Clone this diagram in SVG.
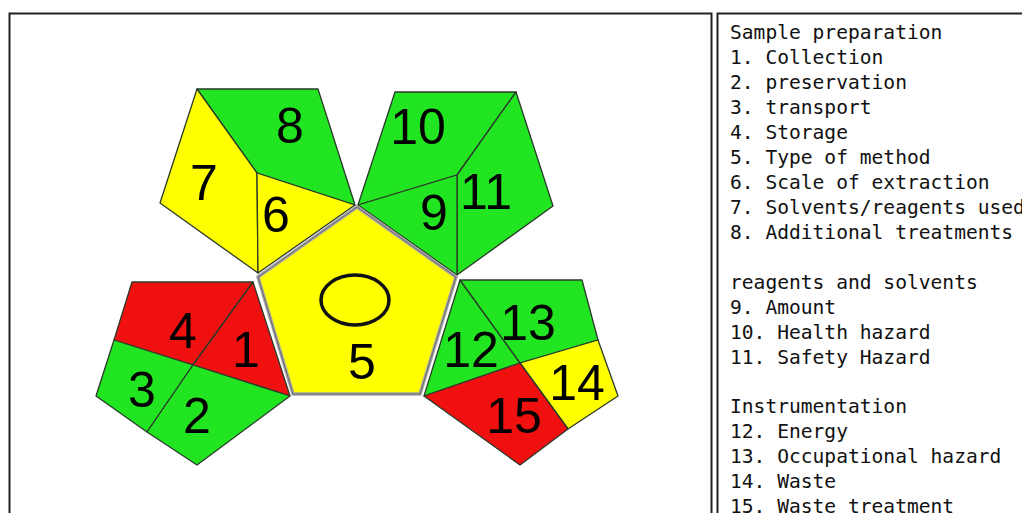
<svg xmlns="http://www.w3.org/2000/svg" width="1022" height="513" viewBox="0 0 1022 513">
<style>
.frame{fill:#fff;stroke:#222;stroke-width:2}
.g{fill:#22e522}
.y{fill:#ffff00}
.r{fill:#f01010}
.seg{stroke:#2a3a2a;stroke-width:1.3;stroke-linejoin:round}
.num{font-family:"Liberation Sans",Arial,sans-serif;font-size:50px;fill:#000;text-anchor:middle}
.leg{font-family:"DejaVu Sans Mono","Liberation Mono",monospace;font-size:19.6px;fill:#111}
</style>
<rect width="1022" height="513" fill="#fff"/>
<rect class="frame" x="9.5" y="13.5" width="702" height="520"/>
<rect class="frame" x="717.5" y="13.5" width="330" height="520"/>

<g id="pentagon-top-left">
<polygon class="g seg" points="197,89 318,89 355,205 257,173"/>
<polygon class="y seg" points="197,89 257,173 258,273 160,203"/>
<polygon class="y seg" points="257,173 355,205 258,273"/>
<text class="num" x="290" y="143">8</text>
<text class="num" x="204" y="200">7</text>
<text class="num" x="276" y="232">6</text>
</g>

<g id="pentagon-top-right">
<polygon class="g seg" points="395,92 516,92 457,175 358,205"/>
<polygon class="g seg" points="516,92 553,206 457,275 457,175"/>
<polygon class="g seg" points="358,205 457,175 457,275"/>
<text class="num" x="418" y="144">10</text>
<text class="num" x="434" y="230">9</text>
<text class="num" x="486" y="209">11</text>
</g>

<g id="pentagon-bottom-left">
<polygon class="r seg" points="132,282 253,282 193,365 114,340"/>
<polygon class="r seg" points="253,282 290,396 193,365"/>
<polygon class="g seg" points="114,340 193,365 147,432 96,396"/>
<polygon class="g seg" points="193,365 290,396 197,465 147,432"/>
<text class="num" x="183" y="348">4</text>
<text class="num" x="246" y="367">1</text>
<text class="num" x="142" y="407">3</text>
<text class="num" x="197" y="433">2</text>
</g>

<g id="pentagon-bottom-right">
<polygon class="g seg" points="460,280 520,363 424,396"/>
<polygon class="g seg" points="460,280 582,280 598,340 520,363"/>
<polygon class="y seg" points="520,363 598,340 618,396 568,429"/>
<polygon class="r seg" points="424,396 520,363 568,429 520,465"/>
<text class="num" x="471" y="367">12</text>
<text class="num" x="528" y="340">13</text>
<text class="num" x="577" y="400">14</text>
<text class="num" x="514" y="433">15</text>
</g>

<g id="pentagon-center">
<polygon points="357,207 456,277 420,394 293,394 258,277" fill="#ffff00" stroke="#a8a8a8" stroke-width="3.5" stroke-linejoin="miter"/>
<polygon points="357,207 456,277 420,394 293,394 258,277" fill="none" stroke="#555" stroke-width="0.8"/>
<ellipse cx="355" cy="300" rx="34" ry="25" fill="none" stroke="#111" stroke-width="3.5"/>
<text class="num" x="362" y="379">5</text>
</g>

<g id="legend">
<text class="leg" x="730" y="39">Sample preparation</text>
<text class="leg" x="730" y="64">1. Collection</text>
<text class="leg" x="730" y="89">2. preservation</text>
<text class="leg" x="730" y="114">3. transport</text>
<text class="leg" x="730" y="139">4. Storage</text>
<text class="leg" x="730" y="164">5. Type of method</text>
<text class="leg" x="730" y="189">6. Scale of extraction</text>
<text class="leg" x="730" y="214">7. Solvents/reagents used</text>
<text class="leg" x="730" y="239">8. Additional treatments</text>
<text class="leg" x="730" y="289">reagents and solvents</text>
<text class="leg" x="730" y="314">9. Amount</text>
<text class="leg" x="730" y="339">10. Health hazard</text>
<text class="leg" x="730" y="364">11. Safety Hazard</text>
<text class="leg" x="730" y="413">Instrumentation</text>
<text class="leg" x="730" y="438">12. Energy</text>
<text class="leg" x="730" y="463">13. Occupational hazard</text>
<text class="leg" x="730" y="488">14. Waste</text>
<text class="leg" x="730" y="513">15. Waste treatment</text>
</g>
</svg>
